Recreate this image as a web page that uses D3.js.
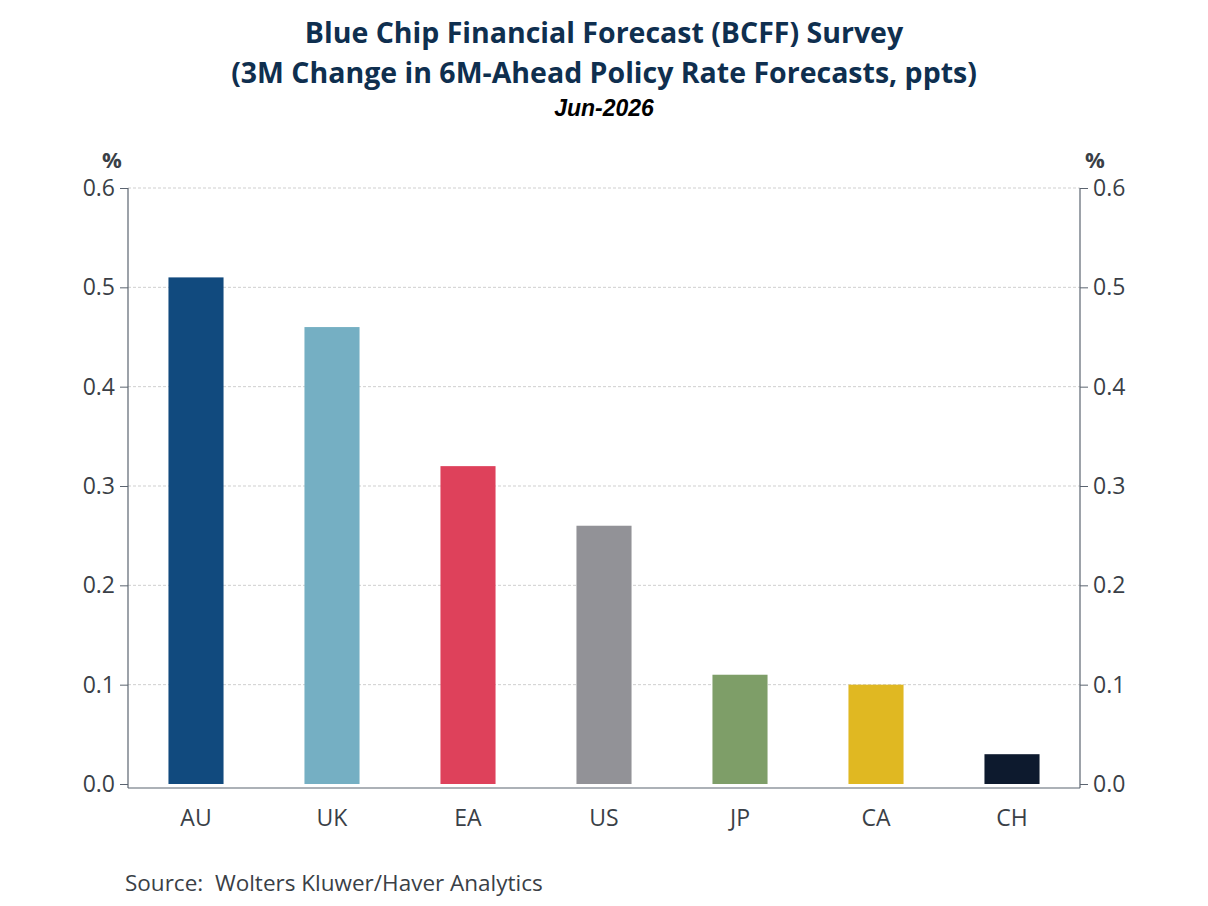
<!DOCTYPE html>
<html><head><meta charset="utf-8">
<script src="https://cdn.jsdelivr.net/npm/d3@7"></script>
<style>body{margin:0;background:#fff;} svg{display:block;}</style>
</head><body>
<script>
const categories = ["AU","UK","EA","US","JP","CA","CH"];
const values = [0.51, 0.46, 0.32, 0.26, 0.11, 0.10, 0.03];
const colors = ["#114a7e","#75afc3","#de415b","#929297","#7e9e68","#e0b822","#0d1a2e"];
const yTicks = [0, 0.1, 0.2, 0.3, 0.4, 0.5, 0.6];

(function () {
const W = 1208, H = 906;
const pLeft = 128, pRight = 1080, pTop = 188, zeroY = 784, axisY = 788;
const svg = d3.select("body").append("svg").attr("width", W).attr("height", H);
const font = "'Open Sans', 'Noto Sans', sans-serif";
const txt = "#3a3f47", axisCol = "#5b6470";

const x = d3.scaleBand().domain(categories).range([pLeft, pRight]).paddingInner(0.595).paddingOuter(0.2975);
const y = d3.scaleLinear().domain([0, 0.6]).range([zeroY, pTop]);

// grid
svg.append("g").selectAll("line").data(yTicks.slice(1)).join("line")
  .attr("x1", pLeft).attr("x2", pRight).attr("y1", d => y(d)).attr("y2", d => y(d))
  .attr("stroke", "#cfcfcf").attr("stroke-dasharray", "3,2").attr("stroke-width", 1);

// bars
svg.append("g").selectAll("rect").data(categories).join("rect")
  .attr("x", d => x(d)).attr("width", x.bandwidth())
  .attr("y", (d, i) => y(values[i])).attr("height", (d, i) => zeroY - y(values[i]))
  .attr("fill", (d, i) => colors[i]);

// axes
const yl = d3.axisLeft(y).tickValues(yTicks).tickFormat(d3.format(".1f")).tickSize(8).tickPadding(5);
const yr = d3.axisRight(y).tickValues(yTicks).tickFormat(d3.format(".1f")).tickSize(8).tickPadding(5);
function styleAxis(g) {
  g.select(".domain").remove();
  g.selectAll(".tick line").attr("stroke", axisCol);
  g.selectAll(".tick text").attr("fill", txt).style("font-family", font).style("font-size", "23px");
}
svg.append("g").attr("transform", `translate(${pLeft},0)`).call(yl).call(styleAxis);
svg.append("g").attr("transform", `translate(${pRight},0)`).call(yr).call(styleAxis);
svg.append("line").attr("x1", pLeft).attr("x2", pLeft).attr("y1", pTop).attr("y2", axisY).attr("stroke", axisCol).attr("stroke-width", 1.2);
svg.append("line").attr("x1", pRight).attr("x2", pRight).attr("y1", pTop).attr("y2", axisY).attr("stroke", axisCol).attr("stroke-width", 1.2);
svg.append("line").attr("x1", pLeft).attr("x2", pRight).attr("y1", axisY).attr("y2", axisY).attr("stroke", axisCol).attr("stroke-width", 1.2);

// x labels
const xa = d3.axisBottom(x).tickSize(0).tickPadding(22);
svg.append("g").attr("transform", `translate(0,${axisY})`).call(xa).call(g => {
  g.select(".domain").remove();
  g.selectAll(".tick text").attr("fill", txt).style("font-family", font).style("font-size", "23px");
});

// % labels
svg.append("text").attr("x", 112).attr("y", 168).attr("text-anchor", "middle").attr("fill", txt)
  .style("font-family", font).style("font-size", "22px").style("font-weight", "bold").text("%");
svg.append("text").attr("x", 1095).attr("y", 168).attr("text-anchor", "middle").attr("fill", txt)
  .style("font-family", font).style("font-size", "22px").style("font-weight", "bold").text("%");

// titles
const tcol = "#0f2f4f";
svg.append("text").attr("x", 604).attr("y", 43).attr("text-anchor", "middle").attr("fill", tcol)
  .style("font-family", font).style("font-size", "28.5px").style("font-weight", "bold")
  .text("Blue Chip Financial Forecast (BCFF) Survey");
svg.append("text").attr("x", 604).attr("y", 83).attr("text-anchor", "middle").attr("fill", tcol)
  .style("font-family", font).style("font-size", "28.5px").style("font-weight", "bold")
  .text("(3M Change in 6M-Ahead Policy Rate Forecasts, ppts)");
svg.append("text").attr("x", 604).attr("y", 116).attr("text-anchor", "middle").attr("fill", "#000")
  .style("font-family", "'Liberation Sans', Arial, sans-serif").style("font-size", "23px")
  .style("font-weight", "bold").style("font-style", "italic").text("Jun-2026");

// source
svg.append("text").attr("x", 125).attr("y", 891).attr("fill", txt)
  .style("font-family", font).style("font-size", "22.5px").attr("xml:space", "preserve")
  .text("Source:  Wolters Kluwer/Haver Analytics");
})();
</script>
</body></html>
